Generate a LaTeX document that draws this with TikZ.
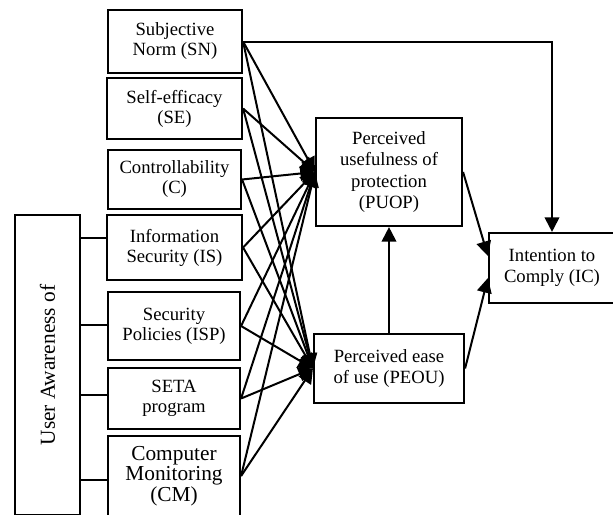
\documentclass[tikz,border=0pt]{standalone}
\usepackage{fontspec}
\setmainfont{Liberation Serif}
\usetikzlibrary{arrows.meta}
\begin{document}
\begin{tikzpicture}[x=0.75pt,y=-0.75pt,
  box/.style 2 args={draw, line width=1.6pt, inner sep=0pt, align=center,
    minimum width=#1*0.75pt, minimum height=#2*0.75pt,
    font=\fontsize{14}{15}\selectfont},
  conn/.style={line width=1.5pt},
  arr/.style={conn, -{Triangle[length=11pt,width=11pt]}}]
\useasboundingbox (0,0) rectangle (613,514);
\clip (0,0) rectangle (613,514);

% left column
\node[box={134}{63}] (SN) at (175,41.5) {Subjective\\Norm (SN)};
\node[box={135}{61}] (SE) at (174.5,108.5) {Self-efficacy\\(SE)};
\node[box={133}{59}] (C) at (174.5,179.5) {Controllability\\(C)};
\node[box={135}{65}] (IS) at (174.5,247.5) {Information\\Security (IS)};
\node[box={132}{68}] (ISP) at (174,326) {Security\\Policies (ISP)};
\node[box={132}{61}] (SETA) at (174,398.5) {SETA\\program};
\node[box={132}{80}, font=\fontsize{16}{13}\selectfont] (CM) at (174,476) {Computer\\Monitoring\\(CM)};

% awareness box
\node[box={65}{300}, font=\fontsize{16}{19}\selectfont] (UA) at (47.5,365) {\rotatebox{90}{User Awareness of}};

% middle and right
\node[box={146}{108}, font=\fontsize{14}{16}\selectfont] (PUOP) at (389,172) {Perceived\\usefulness of\\protection\\(PUOP)};
\node[box={150}{69}, font=\fontsize{14}{16}\selectfont] (PEOU) at (389,368.5) {Perceived ease\\of use (PEOU)};
\node[box={126}{70}, font=\fontsize{14}{16}\selectfont] (IC) at (552,268) {Intention to\\Comply (IC)};

% connectors from awareness box
\foreach \n/\s in {IS/7pt, ISP/0.5pt, SETA/2.6pt, CM/-3pt} {
  \draw[conn] ([yshift=\s]\n.west) coordinate (t) -- (t -| UA.east);
}

% fan of arrows
\foreach \n in {SN,SE,C,IS,ISP,SETA,CM} {
  \draw[arr] (\n.east) -- (PUOP.west);
  \draw[arr] (\n.east) -- (PEOU.west);
}

\draw[arr] (SN.east) -| (IC.north);
\draw[arr] (PEOU.north) -- (PUOP.south);
\draw[arr] (PUOP.east) -- ([yshift=9pt]IC.west);
\draw[arr] (PEOU.east) -- ([yshift=-7.5pt]IC.west);
\end{tikzpicture}
\end{document}
